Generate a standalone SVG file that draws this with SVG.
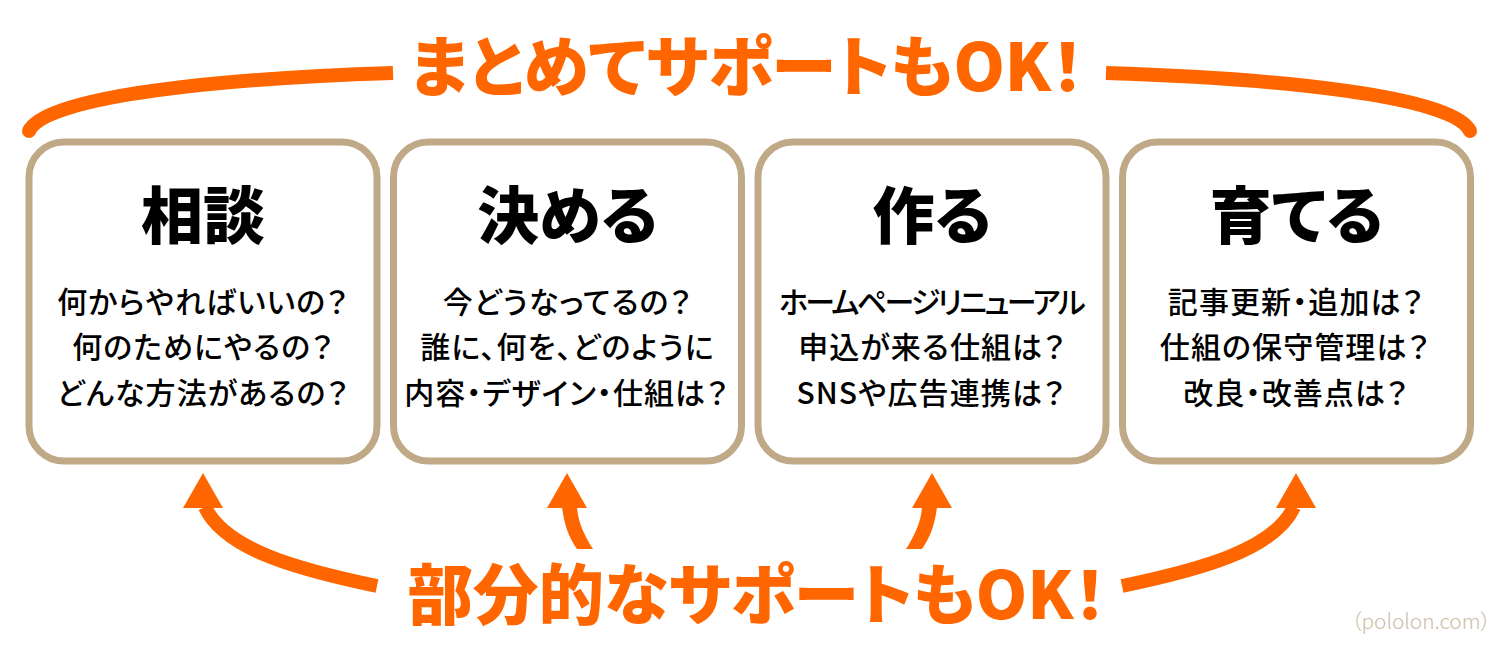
<svg xmlns="http://www.w3.org/2000/svg" width="1500" height="662" viewBox="0 0 1500 662">
<defs><style>
text{font-family:"Noto Sans CJK JP","Noto Sans",sans-serif;text-anchor:middle;font-feature-settings:"palt"}
.box{fill:#fff;stroke:#bfa987;stroke-width:7}
.t{font-size:62px;font-weight:900;fill:#000}
.b{font-size:30px;font-weight:500;fill:#000;letter-spacing:1.1px}
.n{letter-spacing:-2.7px}
.h{font-size:65.5px;font-weight:900;fill:#ff6600}
.c{fill:none;stroke:#ff6600;stroke-width:14}
.a{fill:#ff6600}
</style></defs>
<rect width="1500" height="662" fill="#fff"/>
<g id="connectors">
<circle class="a" cx="29" cy="131" r="7"/>
<path class="c" d="M29 131C45 95 230 78 393 73"/>
<circle class="a" cx="1470" cy="131" r="7"/>
<path class="c" d="M1470 131C1454 95 1269 78 1106 73"/>
<path class="c" d="M377 586C300 570 225 550 205 507"/>
<path class="a" d="M203 473L223 508H183Z"/>
<path class="a" d="M577 549L593 549C584 535 578 522 577 507L562 507C564 524 569 538 577 549Z"/>
<path class="a" d="M567 473L587 508H547Z"/>
<path class="a" d="M922 549L906 549C915 535 921 522 922 507L937 507C935 524 930 538 922 549Z"/>
<path class="a" d="M932 473L952 508H912Z"/>
<path class="c" d="M1122 586C1199 570 1274 550 1294 507"/>
<path class="a" d="M1296 473L1316 508H1276Z"/>
</g>
<g id="node-1"><rect class="box" x="29" y="142" width="348" height="319" rx="35"/>
<text class="t" x="203" y="239">相談</text>
<text class="b" x="203" y="313">何からやればいいの？</text><text class="b" x="203" y="358">何のためにやるの？</text><text class="b" x="203" y="404">どんな方法があるの？</text></g>
<g id="node-2"><rect class="box" x="393.5" y="142" width="348" height="319" rx="35"/>
<text class="t" x="567.5" y="239">決める</text>
<text class="b" x="567.5" y="313">今どうなってるの？</text><text class="b" x="567.5" y="358">誰に、何を、どのように</text><text class="b" x="566.5" y="404">内容・デザイン・仕組は？</text></g>
<g id="node-3"><rect class="box" x="758" y="142" width="348" height="319" rx="35"/>
<text class="t" x="932" y="239">作る</text>
<text class="b n" x="931" y="313">ホームページリニューアル</text><text class="b" x="932" y="358">申込が来る仕組は？</text><text class="b" x="931" y="404">SNSや広告連携は？</text></g>
<g id="node-4"><rect class="box" x="1122.5" y="142" width="348" height="319" rx="35"/>
<text class="t" x="1296.5" y="239">育てる</text>
<text class="b" x="1296" y="313">記事更新・追加は？</text><text class="b" x="1295" y="358">仕組の保守管理は？</text><text class="b" x="1296" y="404">改良・改善点は？</text></g>
<text class="h" x="747" y="91">まとめてサポートもOK！</text>
<text class="h" x="757" y="619">部分的なサポートもOK！</text>
<text x="1421" y="629" font-size="20.8" font-weight="300" fill="#c9bda6">（pololon.com）</text>
</svg>
